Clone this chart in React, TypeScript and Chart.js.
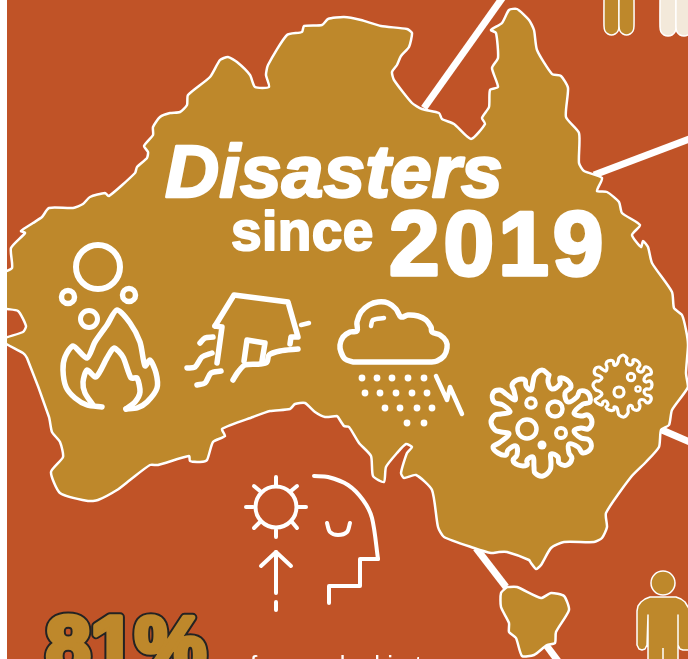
import React, { useEffect, useRef } from "react";
import { Chart, registerables } from "chart.js";

Chart.register(...registerables);

type P = [number, number];

const mainland: P[] = [
  [1,273],[12,268],[11,248],[25,233],[21,231],[33,223],[42,217],[49,208],[73,208],[83,204],[90,197],[105,193],[109,196],[135,173],[137,167],[147,158],[148,152],[144,146],[153,135],[153,127],[160,117],[170,113],[180,112],[187,105],[188,95],[210,77],[220,60],[228,57],[237,62],[250,75],[255,87],[269,87],[266,75],[268,65],[287,35],[302,32],[304,26],[322,25],[328,19],[344,17],
  [361,20],[381,26],[407,29],[412,33],[409,47],[401,56],[397,65],[392,72],[394,80],[412,103],[422,109],[439,113],[442,119],[454,124],[471,139],[485,124],[482,118],[489,107],[490,90],[498,87],[492,68],[498,58],[496,33],[491,30],[502,23],[509,10],[517,9],[529,20],[534,30],[537,50],[552,74],[561,76],[568,88],[566,117],[579,133],[579,163],[584,171],[602,178],[597,191],[607,192],[619,202],[622,213],[640,225],[632,235],[641,247],[643,241],[648,247],[652,263],[672,292],[674,308],[682,315],[686,330],
  [688,345],[686,373],[688,387],[672,410],[669,425],[661,430],[659,447],[646,462],[631,477],[606,513],[607,527],[602,538],[594,542],[564,542],[551,548],[541,565],[536,569],[531,563],[529,560],[507,552],[499,552],[491,553],[474,548],[444,537],[438,527],[432,490],[416,475],[404,478],[401,473],[407,453],[412,447],[406,444],[397,453],[386,467],[384,482],[373,476],[371,456],[359,443],[349,427],[344,426],
  [338,417],[337,416],[325,417],[315,412],[305,403],[295,404],[290,409],[270,411],[253,417],[222,429],[225,436],[213,442],[207,460],[200,462],[190,461],[189,456],[158,465],[150,465],[130,480],[117,490],[98,500],[88,501],[60,493],[51,472],[63,457],[60,442],[52,432],[49,417],[27,358],[23,353],[1,340],[23,332],[26,326],[18,311],[1,307],[1,273],
];
const tasmania: P[] = [[507,587],[517,587],[541,598],[551,593],[564,596],[569,610],[556,632],[555,643],[547,645],[534,655],[522,656],[516,638],[509,632],[509,623],[501,607],[501,593],[507,587]];

const routes: P[][] = [
  [[503,-3],[424,108]],
  [[692,138],[594,175]],
  [[692,443],[662,430]],
  [[476,548],[506,587]],
  [[546,645],[558,661]],
];

const personBody: P[] = [[648,665],[648,615],[647,645],[645,649],[642,650],[639,649],[637,645],[637,611],[638,606],[641,602],[645,599],[650,597],[676,597],[681,599],[685,602],[688,607],[695,620],[695,650],[683,650],[680,649],[678,645],[678,615],[678,665],[648,665]];
const personLegGap: P[] = [[663,648],[663,665]];
const goldLegLeft: P[] = [[604,-3],[604,26],[605,31],[608,34],[611.5,35],[615,34],[618,31],[619,26],[619,-3]];
const goldLegRight: P[] = [[619,-3],[619,26],[620,31],[623,34],[626.5,35],[630,34],[633,31],[634,26],[634,-3]];
const creamLegLeft: P[] = [[660,-3],[660,27],[661,32],[664,35],[668,36],[672,35],[675,32],[676,27],[676,-3]];
const creamLegRight: P[] = [[676,-3],[676,27],[677,32],[680,35],[684,36],[688,35],[691,32],[692,27],[692,-3]];

const flameOuter: P[] = [[102,407],[87,405],[75,398],[66,387],[63,370],[65,357],[73,346],[87,358],[95,342],[107,325],[117,310],[130,323],[140,342],[145,366],[150,360],[156,373],[157,388],[147,402],[137,408],[126,409]];
const flameInner: P[] = [[93,405],[85,393],[83,382],[87,370],[96,377],[107,358],[114,348],[123,357],[131,378],[137,378],[140,392],[135,402],[126,409]];

const houseRoof: P[] = [[215,326],[234,295],[288,302],[298,337],[291,337],[290,344]];
const houseWall: P[] = [[215,326],[222,327],[217,363]];
const houseDoor: P[] = [[244,361],[247,340],[265,343],[262,361]];
const flood: P[] = [[233,380],[238,372],[245,365],[260,364],[267,362],[269,355],[280,351],[298,349]];
const houseDrop: P[] = [[301,325],[309,323]];
const waveA: P[] = [[200,343],[205,338],[213,337]];
const waveB: P[] = [[187,368],[195,367],[202,357],[212,353]];
const waveC: P[] = [[197,385],[205,383],[211,373],[221,371]];

const cloud: P[] = [[353,362],[345,359],[341,352],[340,345],[343,337],[350,332],[357,331],[357,322],[361,312],[369,305],[378,302],[388,303],[396,309],[401,317],[408,315],[418,316],[426,320],[431,327],[432,332],[440,335],[446,341],[447,348],[444,356],[437,361],[431,362],[420,362],[365,362],[353,362]];
const cloudShine: P[] = [[371,326],[373,320],[384,318]];
const bolt: P[] = [[436,376],[447,400],[450,387],[462,414]];
const rainDrops: P[] = [[362,378],[377,378],[392,378],[408,378],[424,378],[365,393],[380,393],[396,393],[412,393],[427,393],[385,408],[400,408],[417,408],[432,408],[407,423],[424,423]];

const virusLarge: P[] = [[549,375],[548,382],[552,389],[560,384],[560,378],[567,380],[571,387],[565,393],[568,402],[577,397],[580,391],[588,393],[590,402],[583,404],[574,413],[581,416],[588,415],[592,422],[588,429],[581,428],[574,431],[581,438],[589,440],[591,448],[583,453],[578,447],[569,444],[569,453],[572,458],[567,465],[559,463],[558,457],[551,454],[551,463],[550,470],[543,476],[535,473],[534,467],[533,457],[527,460],[527,465],[518,465],[513,460],[517,455],[516,446],[508,450],[506,455],[498,453],[493,447],[499,443],[509,434],[501,432],[495,430],[491,422],[495,415],[501,414],[510,412],[503,405],[494,402],[493,393],[500,390],[506,394],[515,400],[514,391],[512,385],[517,380],[525,380],[526,386],[531,390],[533,382],[535,375],[542,370],[549,375]];
const virusSmall: P[] = [[627,358],[626.5,362],[630,365],[633,363],[633,360],[637.5,361],[640,365],[637.5,369],[640,372],[643,371],[645,367],[650,369],[651,374],[647,375],[644,379],[646,382],[650,381],[652,385],[650,389],[646,389],[644,392],[646,395],[650,396],[651,400],[647,403],[644,400],[640,400],[639,403],[640,406],[638,410],[633,409],[632,406],[629,406],[628,409],[628,413],[624,417],[619,415],[618,412],[617,408],[614,407],[614,410],[609,410],[606,407],[608,405],[606,401],[603,402],[602,405],[597,403],[595,400],[598,398],[602,394],[599,391],[596,390],[593,385],[596,381],[599,381],[602,378],[600,376],[595,374],[595,369],[599,367],[602,369],[606,371],[607,367],[606,364],[608,361],[613,361],[614,365],[616,365],[618,362],[619,358],[623,355],[627,358]];

const headCurve: P[] = [[314,476],[328,477],[348,485],[363,500],[372,518],[378,559]];
const headSteps: P[] = [[378,559],[360,559],[360,586],[329,586],[329,603]];
const smile: P[] = [[327,523],[330,532],[338,535],[347,532],[350,523]];
const sunRays: P[][] = [
  [[276,477],[276,485]],[[276,530],[276,537]],[[246,507],[253,507]],[[298,507],[306,507]],
  [[254,486],[260,491]],[[297,486],[291,491]],[[254,528],[260,522]],[[297,528],[292,522]],
];
const arrowHead: P[] = [[261,566],[276,552],[291,566]];
const arrowShaft: P[] = [[276,552],[276,593]];
const arrowDash: P[] = [[276,602],[276,610]];

const titleWord = "Disasters";
const sinceWord = "since";
const yearWord = "2019";
const statWord = "81%";
const captionLine = "from a deal in town";

const RED = "#C05327";
const GOLD = "#BE882B";
const CREAM = "#F3E9DA";
const WHITE = "#FFFFFF";

const pts = (a: P[]) => a.map(([x, y]) => ({ x, y }));

const stroke = (a: P[], w: number, tension = 0, color = WHITE) => ({
  data: pts(a), showLine: true, borderColor: color, borderWidth: w, tension,
  borderCapStyle: "round", borderJoinStyle: "round", pointRadius: 0, fill: false,
});
const flat = (a: P[], w: number) => ({ ...stroke(a, w), borderCapStyle: "butt", borderJoinStyle: "miter" });
const shape = (a: P[], fillColor: string, w: number, tension = 0) => ({
  ...stroke(a, w, tension), fill: "shape", backgroundColor: fillColor,
});
const ring = (c: P, r: number, w: number, fillColor = "transparent", color = WHITE) => ({
  data: pts([c]), showLine: false, pointRadius: r, pointBorderWidth: w,
  pointBorderColor: color, pointBackgroundColor: fillColor,
});

const textPlugin = {
  id: "labels",
  beforeDraw(chart: any) {
    const { ctx, chartArea: a } = chart;
    ctx.save();
    ctx.fillStyle = RED;
    ctx.fillRect(a.left, a.top, a.right - a.left, a.bottom - a.top);
    ctx.restore();
  },
  afterDatasetsDraw(chart: any) {
    const { ctx, scales } = chart;
    const put = (t: string, x: number, y: number, font: string, extra: number, spacing = "0px") => {
      ctx.save();
      ctx.font = font;
      (ctx as any).letterSpacing = spacing;
      ctx.textBaseline = "alphabetic";
      ctx.fillStyle = WHITE;
      ctx.strokeStyle = WHITE;
      ctx.lineJoin = "round";
      const px = scales.x.getPixelForValue(x), py = scales.y.getPixelForValue(y);
      if (extra > 0) { ctx.lineWidth = extra; ctx.strokeText(t, px, py); }
      ctx.fillText(t, px, py);
      ctx.restore();
    };
    const fam = '"Liberation Sans", Arial, sans-serif';
    put(titleWord, 165, 197, `italic bold 75px ${fam}`, 2.5);
    put(sinceWord, 231, 250, `bold 55px ${fam}`, 2, "0.4px");
    put(yearWord, 389, 275, `bold 91px ${fam}`, 3.5, "4px");
    put(captionLine, 250, 674, `26px ${fam}`, 0);
    ctx.save();
    ctx.font = `bold 80px ${fam}`;
    ctx.lineJoin = "round";
    const sx = scales.x.getPixelForValue(46), sy = scales.y.getPixelForValue(672);
    ctx.strokeStyle = "#232323"; ctx.lineWidth = 9.5; ctx.strokeText(statWord, sx, sy);
    ctx.strokeStyle = GOLD; ctx.lineWidth = 5.5; ctx.strokeText(statWord, sx, sy);
    ctx.fillStyle = GOLD; ctx.fillText(statWord, sx, sy);
    ctx.restore();
  },
};

export default function App() {
  const ref = useRef<HTMLCanvasElement>(null);
  useEffect(() => {
    const layers: any[] = [
      ...routes.map((r) => flat(r, 7)),
      shape(goldLegLeft, GOLD, 1.5, 0.2),
      shape(goldLegRight, GOLD, 1.5, 0.2),
      shape(creamLegLeft, CREAM, 1.5, 0.2),
      shape(creamLegRight, CREAM, 1.5, 0.2),
      shape(personBody, GOLD, 1.5),
      flat(personLegGap, 1.5),
      ring([663, 583], 12, 1.5, GOLD),
      shape(mainland, GOLD, 2.5, 0.2),
      shape(tasmania, GOLD, 2.5, 0.2),
      ring([98, 267], 22, 6),
      ring([68, 297], 6.5, 5.5),
      ring([129, 295], 6.5, 5.5),
      ring([89, 319], 8.5, 5),
      stroke(flameOuter, 5.5, 0.25),
      stroke(flameInner, 5.5, 0.25),
      stroke(houseRoof, 5.5),
      stroke(houseWall, 5.5),
      stroke(houseDoor, 5.5),
      stroke(flood, 5.5, 0.3),
      stroke(houseDrop, 4.5),
      stroke(waveA, 5.5, 0.3),
      stroke(waveB, 5.5, 0.3),
      stroke(waveC, 5.5, 0.3),
      stroke(cloud, 5.5, 0.35),
      stroke(cloudShine, 4.5, 0.3),
      stroke(bolt, 4.5),
      { data: pts(rainDrops), showLine: false, pointRadius: 3.4, pointBorderWidth: 0, pointBackgroundColor: WHITE },
      stroke(virusLarge, 5, 0.4),
      ring([531, 403], 4.8, 4),
      ring([555, 409], 7.5, 4.5),
      ring([527, 429], 9.5, 4.5),
      ring([561, 433], 5, 4),
      ring([542, 445], 4.5, 0, WHITE),
      stroke(virusSmall, 3.2, 0.4),
      ring([619, 392], 5, 3.2),
      ring([631, 377], 3.7, 3),
      ring([638, 389], 2.5, 2.5),
      ring([276, 507], 20.5, 4),
      ...sunRays.map((r) => stroke(r, 4)),
      stroke(arrowHead, 4),
      stroke(arrowShaft, 4),
      stroke(arrowDash, 4),
      stroke(headCurve, 4, 0.3),
      stroke(headSteps, 4),
      stroke(smile, 4, 0.3),
    ];
    const chart = new Chart(ref.current as HTMLCanvasElement, {
      type: "scatter",
      data: { datasets: layers.reverse() },
      options: {
        animation: false,
        responsive: false,
        events: [],
        layout: { padding: 0, autoPadding: false },
        plugins: { legend: { display: false }, tooltip: { enabled: false } },
        scales: {
          x: { type: "linear", min: 7, max: 688, display: false },
          y: { type: "linear", min: 0, max: 659, reverse: true, display: false },
        },
      },
      plugins: [textPlugin],
    } as any);
    return () => chart.destroy();
  }, []);
  return (
    <canvas
      ref={ref}
      width={681}
      height={659}
      style={{ position: "absolute", left: 7, top: 0, width: 681, height: 659, display: "block" }}
    />
  );
}
